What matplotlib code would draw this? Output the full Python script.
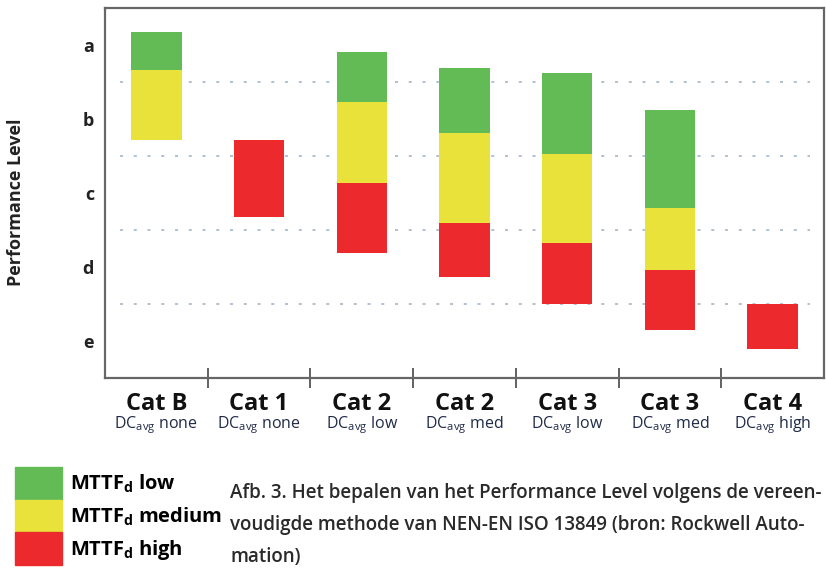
import numpy as np
import matplotlib
matplotlib.use("Agg")
import matplotlib.pyplot as plt
from matplotlib.patches import Patch

plt.rcParams['font.family'] = ['Open Sans', 'DejaVu Sans']
plt.rcParams['mathtext.default'] = 'regular'

# categories along the x axis
categories = ["Cat B", "Cat 1", "Cat 2", "Cat 2", "Cat 3", "Cat 3", "Cat 4"]
dc_levels = ["none", "none", "low", "med", "low", "med", "high"]
pl_levels = ["a", "b", "c", "d", "e"]

# segment limits in PL units (0 = top of level a, 5 = bottom of level e); nan = no segment
green_top = [0.32, np.nan, 0.59, 0.81, 0.88, 1.38, np.nan]
green_bot = [0.84, np.nan, 1.27, 1.69, 1.97, 2.70, np.nan]
yellow_top = [0.84, np.nan, 1.27, 1.69, 1.97, 2.70, np.nan]
yellow_bot = [1.78, np.nan, 2.36, 2.90, 3.18, 3.54, np.nan]
red_top = [np.nan, 1.79, 2.36, 2.90, 3.18, 3.54, 4.00]
red_bot = [np.nan, 2.82, 3.31, 3.64, 4.00, 4.35, 4.61]

legend_labels = [r"MTTF$_{d}$ low", r"MTTF$_{d}$ medium", r"MTTF$_{d}$ high"]
caption = ["Afb. 3. Het bepalen van het Performance Level volgens de vereen-",
           "voudigde methode van NEN-EN ISO 13849 (bron: Rockwell Auto-",
           "mation)"]

c_green = "#62bb55"
c_yellow = "#e8e23a"
c_red = "#ec2a2e"

fig = plt.figure(figsize=(8.26, 5.70), dpi=100)
ax = fig.add_axes([105/826, 1-378/570, 719/826, 370/570])

x = np.arange(len(categories)) + 0.5
w = 0.49
for tops, bots, col in [(green_top, green_bot, c_green),
                        (yellow_top, yellow_bot, c_yellow),
                        (red_top, red_bot, c_red)]:
    tops = np.array(tops)
    bots = np.array(bots)
    ok = ~np.isnan(tops)
    ax.bar(x[ok], bots[ok] - tops[ok], bottom=tops[ok], width=w, color=col,
           linewidth=0, zorder=2)

# dotted level boundaries
ax.hlines([1, 2, 3, 4], 0.15, 6.86, colors="#9db2c6", linewidth=1.1,
          linestyles=(0, (2, 7)), zorder=1)

ax.set_xlim(0, 7)
ax.set_ylim(5, 0)

ax.set_yticks(np.arange(len(pl_levels)) + 0.5)
ax.set_yticklabels(pl_levels, fontsize=13, fontweight='bold', color="#222222")
ax.tick_params(axis='y', length=0, pad=8)

ax.set_xticks([])
ax.set_xticks(np.arange(1, 7), minor=True)
ax.tick_params(axis='x', which='minor', direction='inout', length=14, width=1.3,
               color="#555555")

for sp in ax.spines.values():
    sp.set_color("#666666")
    sp.set_linewidth(1.6)

ax.set_ylabel("Performance Level", fontsize=13, fontweight='bold', color="#222222")
ax.yaxis.set_label_coords(-0.111, 0.476)

trans = ax.get_xaxis_transform()
for xi, cat, dc in zip(x, categories, dc_levels):
    ax.text(xi, -32/370, cat, transform=trans, ha='center', va='baseline',
            fontsize=17, fontweight='bold', color="#111111")
    ax.text(xi, -50/370, "DC$_{avg}$ " + dc, transform=trans, ha='center',
            va='baseline', fontsize=11.5, color="#1f2a48")

handles = [Patch(color=c) for c in (c_green, c_yellow, c_red)]
fig.legend(handles, legend_labels, loc='upper left',
           bbox_to_anchor=(15/826, 1-467/570), frameon=False, borderpad=0,
           borderaxespad=0, handlelength=2.33, handleheight=2.12,
           labelspacing=0, handletextpad=0.4,
           prop={'weight': 'bold', 'size': 14.5})

for i, line in enumerate(caption):
    fig.text(230/826, 1-(498+32*i)/570, line, ha='left', va='baseline',
             fontsize=13.5, fontweight='semibold', color="#2a2a2a")

fig.savefig("out.png", dpi=100)
